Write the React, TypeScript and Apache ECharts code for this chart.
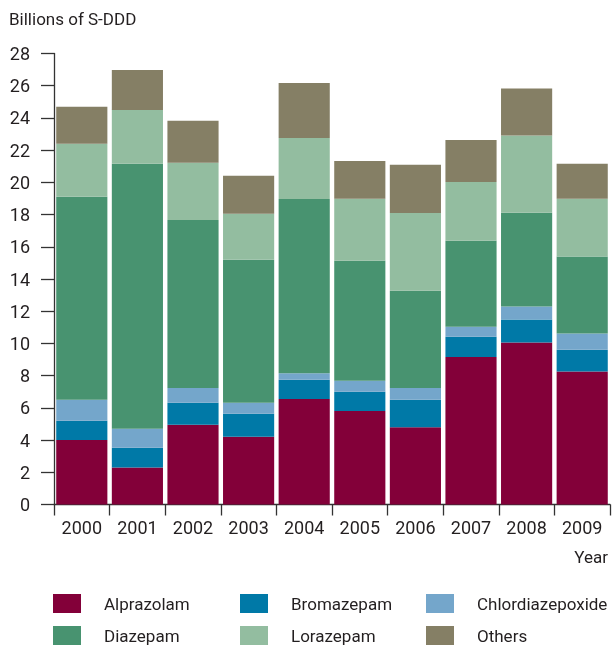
import React, { useEffect, useRef } from "react";
import * as echarts from "echarts";

const years = ["2000", "2001", "2002", "2003", "2004", "2005", "2006", "2007", "2008", "2009"];
const alprazolam = [4.0, 2.3, 4.95, 4.2, 6.55, 5.8, 4.8, 9.15, 10.05, 8.25];
const bromazepam = [1.2, 1.22, 1.36, 1.43, 1.19, 1.2, 1.7, 1.26, 1.43, 1.36];
const chlordiazepoxide = [1.3, 1.18, 0.93, 0.68, 0.41, 0.68, 0.74, 0.62, 0.81, 1.0];
const diazepam = [12.6, 16.45, 10.43, 8.88, 10.82, 7.45, 6.03, 5.34, 5.83, 4.78];
const lorazepam = [3.29, 3.35, 3.54, 2.86, 3.79, 3.85, 4.83, 3.65, 4.79, 3.6];
const others = [2.3, 2.48, 2.61, 2.36, 3.41, 2.35, 2.99, 2.61, 2.91, 2.16];

const seriesNames = ["Alprazolam", "Bromazepam", "Chlordiazepoxide", "Diazepam", "Lorazepam", "Others"];
const seriesData = [alprazolam, bromazepam, chlordiazepoxide, diazepam, lorazepam, others];
const colors = ["#830039", "#0079a7", "#74a6cb", "#489370", "#93bda0", "#857f65"];

const FONT = "Roboto, 'Liberation Sans', sans-serif";
const TEXT = "#231f20";
const AXIS = "#333333";

export default function App() {
  const ref = useRef<HTMLDivElement>(null);
  useEffect(() => {
    if (!ref.current) return;
    const chart = echarts.init(ref.current, undefined, { renderer: "svg" });
    const legendCol = (names: string[], left: number) => ({
      orient: "vertical",
      left,
      top: 594,
      padding: 0,
      itemWidth: 28,
      itemHeight: 19,
      itemGap: 13,
      icon: "rect",
      data: names,
      selectedMode: false,
      textStyle: { fontFamily: FONT, fontSize: 17, color: TEXT, lineHeight: 19, padding: [0, 0, 0, 18] },
    });
    chart.setOption({
      animation: false,
      color: colors,
      title: {
        text: "Billions of S-DDD",
        left: 9,
        top: 10,
        padding: 0,
        textStyle: { fontFamily: FONT, fontSize: 17, fontWeight: "normal", color: TEXT },
      },
      legend: [
        legendCol(["Alprazolam", "Diazepam"], 53),
        legendCol(["Bromazepam", "Lorazepam"], 240),
        legendCol(["Chlordiazepoxide", "Others"], 426),
      ],
      graphic: [
        {
          type: "text",
          right: 8,
          top: 548,
          style: { text: "Year", fontFamily: FONT, fontSize: 17, fill: TEXT },
        },
      ],
      grid: { left: 54, right: 6, top: 53.5, bottom: 143.5 },
      xAxis: {
        type: "category",
        data: years,
        axisLine: { lineStyle: { color: AXIS, width: 1.3 } },
        axisTick: { show: true, interval: 0, length: 11, lineStyle: { color: AXIS, width: 1.3 } },
        axisLabel: { interval: 0, fontFamily: FONT, fontSize: 18, color: TEXT, margin: 14 },
      },
      yAxis: {
        type: "value",
        min: 0,
        max: 28,
        interval: 2,
        splitLine: { show: false },
        axisLine: { show: true, lineStyle: { color: AXIS, width: 1.3 } },
        axisTick: { show: true, length: 13, lineStyle: { color: AXIS, width: 1.3 } },
        axisLabel: { fontFamily: FONT, fontSize: 18, color: TEXT, margin: 24 },
      },
      series: seriesNames.map((name, i) => ({
        name,
        type: "bar",
        stack: "total",
        data: seriesData[i],
        barCategoryGap: "8%",
        itemStyle: { color: colors[i] },
      })),
    });
    return () => chart.dispose();
  }, []);
  return <div ref={ref} style={{ position: "fixed", left: 0, top: 0, width: 616, height: 648 }} />;
}
